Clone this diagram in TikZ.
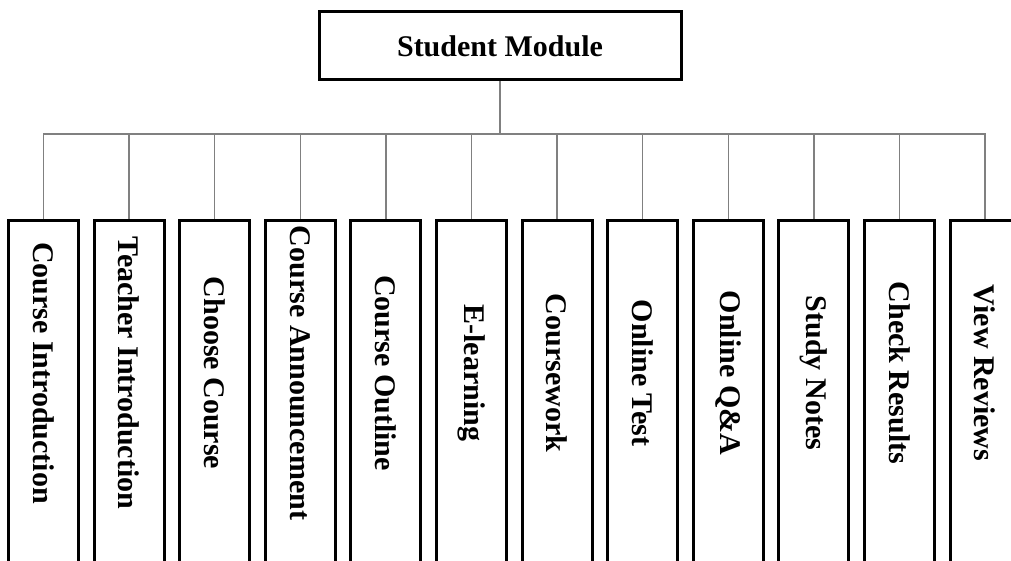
\documentclass[tikz,border=0pt]{standalone}
\usepackage{fontspec}
\setmainfont{Liberation Serif}
\usepackage{tikz}
\usetikzlibrary{positioning}

\begin{document}
\begin{tikzpicture}[
    x=1pt, y=1pt,
    topbox/.style={rectangle, draw, line width=3pt, minimum width=362pt, minimum height=68pt, font=\fontsize{30}{36}\selectfont\bfseries},
    modbox/.style={rectangle, draw, line width=3pt, rotate=-90, minimum width=360pt, minimum height=70pt, inner sep=0pt, font=\fontsize{30}{36}\selectfont\bfseries, execute at end node={\hspace*{56pt}}},
    conn/.style={draw=gray, line width=1.5pt},
]
    \useasboundingbox (0,0) rectangle (1011,561);

    % Root
    \node[topbox] (sm) at (500, 515) {Student Module};
    \coordinate (bus) at (500, 427);

    % Modules
    \node[modbox] (ci) at (43.5, 160) {Course Introduction};
    \node[modbox] (ti) at (129.1, 160) {Teacher Introduction};
    \node[modbox] (cc) at (214.7, 160) {Choose Course};
    \node[modbox] (ca) at (300.3, 160) {Course Announcement};
    \node[modbox] (co) at (385.9, 160) {Course Outline};
    \node[modbox] (el) at (471.5, 160) {E-learning};
    \node[modbox] (cw) at (557.1, 160) {Coursework};
    \node[modbox] (ot) at (642.7, 160) {Online Test};
    \node[modbox] (qa) at (728.3, 160) {Online Q\&A};
    \node[modbox] (sn) at (813.9, 160) {Study Notes};
    \node[modbox] (cr) at (899.5, 160) {Check Results};
    \node[modbox] (vr) at (985.1, 160) {View Reviews};

    % Connectors
    \draw[conn] (sm) -- (bus);
    \foreach \n in {ci, ti, cc, ca, co, el, cw, ot, qa, sn, cr, vr} {
        \draw[conn] (bus) -| (\n.west);
    }

\end{tikzpicture}
\end{document}
